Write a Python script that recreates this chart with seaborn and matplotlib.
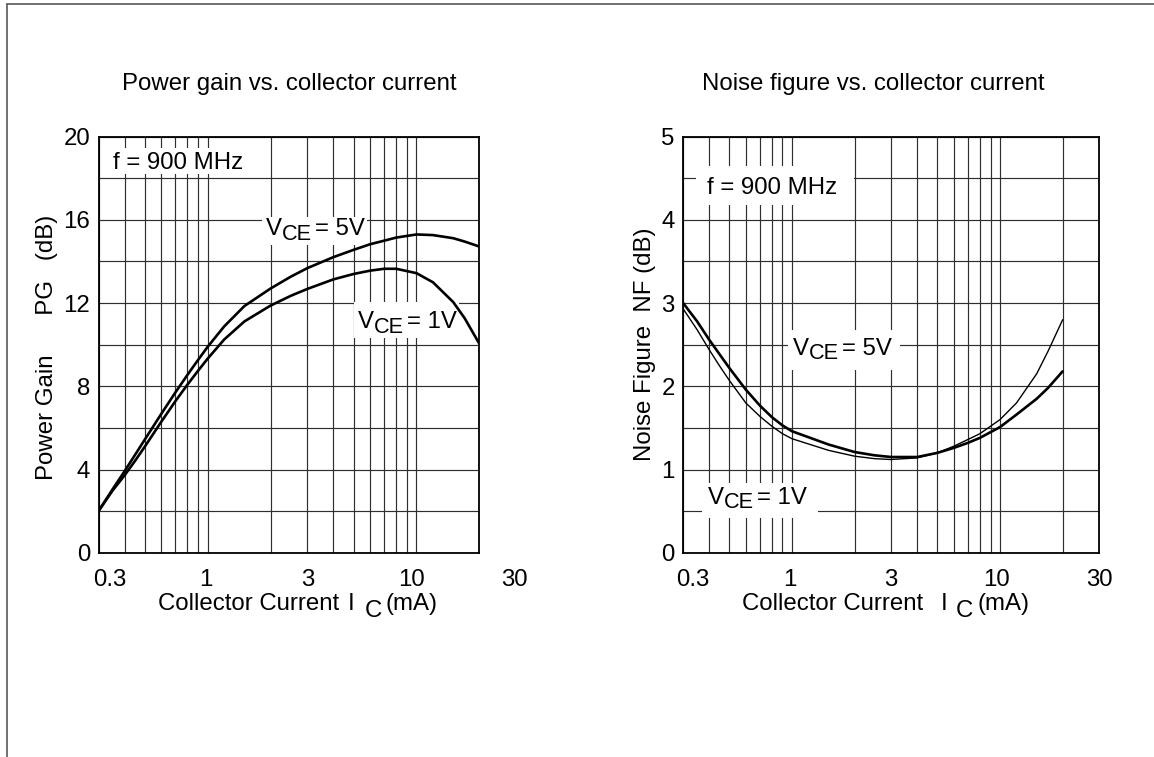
import numpy as np
import pandas as pd
import seaborn as sns
import matplotlib
matplotlib.use("Agg")
import matplotlib.pyplot as plt
from matplotlib.ticker import FixedLocator, NullFormatter, MultipleLocator
from matplotlib.transforms import ScaledTranslation, blended_transform_factory, Bbox
from matplotlib.patches import Rectangle
from matplotlib.lines import Line2D

# ---------------------------------------------------------------- data
# Power gain vs. collector current (f = 900 MHz)
ic_pg = [0.3, 0.35, 0.4, 0.45, 0.5, 0.6, 0.7, 0.8, 0.9, 1.0, 1.2, 1.5, 2.0,
         2.5, 3.0, 4.0, 5.0, 6.0, 7.0, 8.0, 10, 12, 15, 17, 20]
pg_vce5 = [2.0, 3.04, 3.92, 4.72, 5.44, 6.68, 7.7, 8.55, 9.27, 9.9, 10.88,
           11.86, 12.7, 13.27, 13.68, 14.21, 14.56, 14.83, 15.0, 15.15, 15.3,
           15.27, 15.12, 14.96, 14.72]
pg_vce1 = [2.0, 2.98, 3.72, 4.43, 5.1, 6.3, 7.28, 8.08, 8.75, 9.33, 10.25,
           11.12, 11.88, 12.35, 12.68, 13.14, 13.4, 13.56, 13.65, 13.65, 13.44,
           13.0, 12.05, 11.28, 10.05]

# Noise figure vs. collector current (f = 900 MHz)
ic_nf = [0.3, 0.35, 0.4, 0.45, 0.5, 0.6, 0.7, 0.8, 0.9, 1.0, 1.5, 2.0, 2.5,
         3.0, 4.0, 5.0, 6.0, 7.0, 8.0, 10, 12, 15, 17, 20]
nf_vce5 = [3.0, 2.78, 2.56, 2.38, 2.22, 1.96, 1.77, 1.63, 1.53, 1.46, 1.3,
           1.21, 1.17, 1.15, 1.15, 1.2, 1.26, 1.32, 1.38, 1.51, 1.66, 1.85,
           1.98, 2.18]
nf_vce1 = [2.93, 2.68, 2.44, 2.24, 2.07, 1.8, 1.64, 1.52, 1.43, 1.37, 1.23,
           1.16, 1.13, 1.12, 1.14, 1.2, 1.28, 1.36, 1.43, 1.6, 1.8, 2.15,
           2.42, 2.8]

x_major = [0.3, 1, 3, 10, 30]
x_major_labels = ["0.3", "1", "3", "10", "30"]
x_minor = [0.4, 0.5, 0.6, 0.7, 0.8, 0.9, 2, 4, 5, 6, 7, 8, 9, 20]
pg_ticks = [0, 4, 8, 12, 16, 20]
nf_ticks = [0, 1, 2, 3, 4, 5]

titles = ["Power gain vs. collector current", "Noise figure vs. collector current"]
ylabels = ["Power Gain      PG   (dB)", "Noise Figure  NF (dB)"]

# ---------------------------------------------------------------- style
sns.set_theme(style="white")
plt.rcParams["font.family"] = ["Liberation Sans", "DejaVu Sans"]
FS = 17.3
INK = "black"
GRID = "0.18"

W, H = 1154, 757
fig = plt.figure(figsize=(W / 100, H / 100), dpi=100)
fig.patch.set_facecolor("white")


def px_axes(x0, x1, ytop, ybot):
    return [x0 / W, 1 - ybot / H, (x1 - x0) / W, (ybot - ytop) / H]


ax1 = fig.add_axes(px_axes(98.5, 479.3, 136.7, 552.7))
ax2 = fig.add_axes(px_axes(683.2, 1099.3, 136.7, 552.7))

# page frame (left and top edges)
fig.add_artist(Line2D([7.4 / W, 7.4 / W], [0, 1 - 4 / H], transform=fig.transFigure,
                      color="0.35", lw=1.2))
fig.add_artist(Line2D([7.4 / W, 1], [1 - 4 / H, 1 - 4 / H], transform=fig.transFigure,
                      color="0.35", lw=1.2))

# ---------------------------------------------------------------- curves
pg = pd.DataFrame({"ic": ic_pg, "v5": pg_vce5, "v1": pg_vce1})
nf = pd.DataFrame({"ic": ic_nf, "v5": nf_vce5, "v1": nf_vce1})

sns.lineplot(data=pg, x="ic", y="v5", ax=ax1, color=INK, linewidth=1.9, zorder=3)
sns.lineplot(data=pg, x="ic", y="v1", ax=ax1, color=INK, linewidth=1.9, zorder=3)
sns.lineplot(data=nf, x="ic", y="v5", ax=ax2, color=INK, linewidth=1.9, zorder=3)
sns.lineplot(data=nf, x="ic", y="v1", ax=ax2, color=INK, linewidth=1.0, zorder=3)


# ---------------------------------------------------------------- axes
def setup(ax, xmax, ymax, yticks, yminor):
    ax.set_xscale("log")
    ax.set_xlim(0.3, xmax)
    ax.set_ylim(0, ymax)
    inside = [(v, l) for v, l in zip(x_major, x_major_labels) if v <= xmax]
    ax.xaxis.set_major_locator(FixedLocator([v for v, _ in inside]))
    ax.set_xticklabels([l for _, l in inside])
    ax.xaxis.set_minor_locator(FixedLocator([v for v in x_minor if v <= xmax]))
    ax.xaxis.set_minor_formatter(NullFormatter())
    ax.set_yticks(yticks)
    ax.set_yticklabels([str(t) for t in yticks])
    ax.yaxis.set_minor_locator(MultipleLocator(yminor))
    ax.tick_params(which="both", length=0, labelsize=FS, colors=INK)
    ax.tick_params(axis="x", pad=12)
    ax.tick_params(axis="y", pad=6)
    ax.set_axisbelow(True)
    ax.grid(True, which="both", color=GRID, lw=0.85)
    for s in ax.spines.values():
        s.set_color(INK)
        s.set_linewidth(1.3)
    ax.set_xlabel("")
    ax.set_facecolor("white")


setup(ax1, 20, 20, pg_ticks, 2)
setup(ax2, 30, 5, nf_ticks, 0.5)

# "30" end label of the power-gain axis sits past the 20 mA edge
ax1.annotate("30", xy=(30, 0), xycoords=("data", "axes fraction"),
             xytext=(-1.5, -12), textcoords="offset points", ha="center", va="top",
             fontsize=FS, color=INK, annotation_clip=False)


def nudge_xlabels(ax, shifts):
    for lab, dx in zip(ax.get_xticklabels(), shifts):
        lab.set_transform(lab.get_transform() +
                          ScaledTranslation(dx / 100, 0, fig.dpi_scale_trans))


nudge_xlabels(ax1, [11, -2, 0, -5])
nudge_xlabels(ax2, [10, -2, 0, -4, 0])

# titles centred over the 0.3 - 20 mA span
for ax, t in zip((ax1, ax2), titles):
    ax.text(np.sqrt(0.3 * 20), 1.112, t,
            transform=blended_transform_factory(ax.transData, ax.transAxes),
            ha="center", va="baseline", fontsize=FS, color=INK)

# y labels
ax1.set_ylabel(ylabels[0], fontsize=FS, va="center", color=INK)
ax1.yaxis.set_label_coords((46.7 - 98.5) / 380.8, 0.494)
ax2.set_ylabel(ylabels[1], fontsize=FS, va="center", color=INK)
ax2.yaxis.set_label_coords((645 - 683.2) / 416.1, 0.5)


def compound(ax, x, y, transform, pieces, fs=FS, zorder=5):
    """Chain text pieces left to right; each piece is (text, dx_pt, dy_pt, scale)."""
    s0, _, _, sc0 = pieces[0]
    t = ax.text(x, y, s0, transform=transform, ha="left", va="baseline",
                fontsize=fs * sc0, color=INK, zorder=zorder)
    arts = [t]
    prev = t
    for s, dx, dy, sc in pieces[1:]:
        a = ax.annotate(s, xy=(1, 0), xycoords=prev, xytext=(dx, dy),
                        textcoords="offset points", ha="left", va="bottom",
                        fontsize=fs * sc, color=INK, zorder=zorder)
        arts.append(a)
        prev = a
    return arts


def vce(value):
    return [("V", 0, 0, 1.0), ("CE", -0.3, -3.2, 0.9), ("= " + value, 2.2, 3.2, 1.0)]


# x labels: Collector Current  I_C (mA)
compound(ax1, 0.156, -0.138, ax1.transAxes,
         [("Collector Current", 0, 0, 1), ("I", 6.5, 0, 1), ("C", 7, -5, 1), ("(mA)", 3, 5, 1)])
compound(ax2, 0.141, -0.138, ax2.transAxes,
         [("Collector Current", 0, 0, 1), ("I", 13, 0, 1), ("C", 6, -5, 1), ("(mA)", 3, 5, 1)])

# in-plot annotations, each on a white patch (pads in px: left, right, top, bottom)
notes = [
    (ax1, 0.352, 18.45, [("f = 900 MHz", 0, 0, 1)], (6, 6, 4, 0)),
    (ax1, 1.90, 15.27, vce("5V"), (4, 3, 1, 0)),
    (ax1, 5.26, 10.79, vce("1V"), (4, 2, 9, 0)),
    (ax2, 0.391, 4.31, [("f = 900 MHz", 0, 0, 1)], (11, 17, 11, 6)),
    (ax2, 1.011, 2.376, vce("5V"), (5, 9, 8, 6)),
    (ax2, 0.396, 0.585, vce("1V"), (6, 11, 4, 5)),
]
groups = []
for ax, x, y, pieces, pads in notes:
    arts = compound(ax, x, y, ax.transData, pieces)
    groups.append((ax, arts, pads))

fig.canvas.draw()
renderer = fig.canvas.get_renderer()
for ax, arts, (pl, pr, pt, pb) in groups:
    bb = Bbox.union([a.get_window_extent(renderer) for a in arts])
    inv = ax.transAxes.inverted()
    (x0, y0), (x1, y1) = inv.transform([(bb.x0 - pl, bb.y0 - pb), (bb.x1 + pr, bb.y1 + pt)])
    ax.add_patch(Rectangle((x0, y0), x1 - x0, y1 - y0, transform=ax.transAxes,
                           facecolor="white", edgecolor="none", zorder=1.5, clip_on=False))

fig.savefig("out.png", dpi=100, facecolor="white")
